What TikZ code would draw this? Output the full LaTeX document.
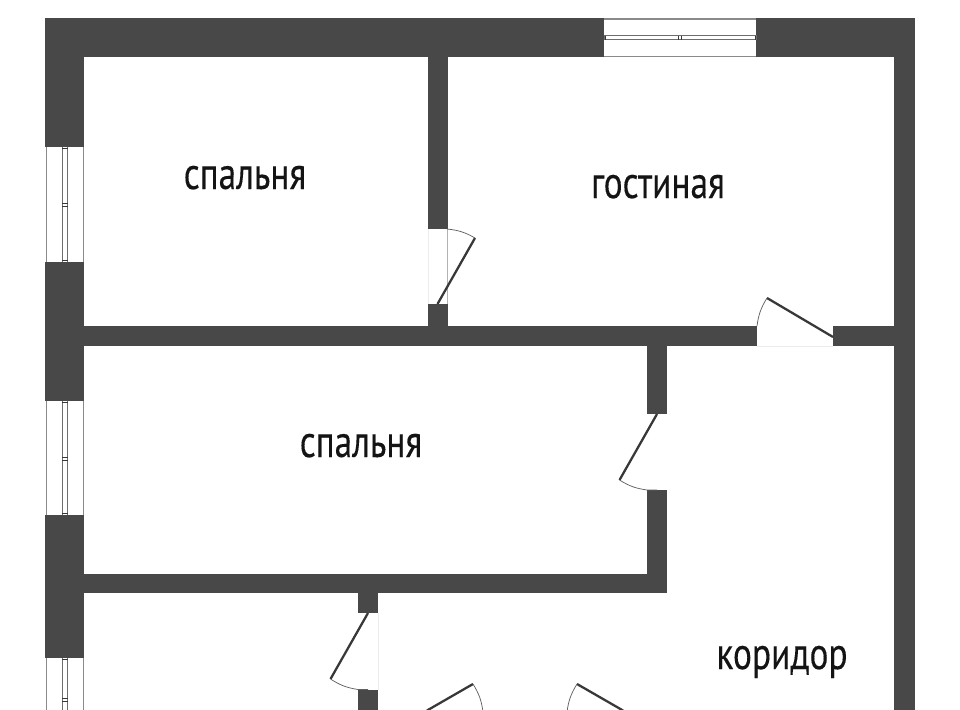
\documentclass[tikz,border=0pt]{standalone}
\usepackage{fontspec}
\setmainfont[FakeBold=0.25]{PT Sans}
\definecolor{wallc}{HTML}{484848}
\definecolor{doorc}{HTML}{383838}
\definecolor{framec}{HTML}{8A8A8A}
\definecolor{faintc}{HTML}{ECECEC}
\tikzset{
  x=0.75pt,y=-0.75pt,
  wall/.style={fill=wallc,draw=none},
  leaf/.style={draw=doorc,line width=1.7pt},
  swing/.style={draw=doorc!80,line width=0.55pt},
  faint/.style={draw=faintc,line width=0.5pt},
  frame/.style={draw=framec,line width=0.9pt},
  pane/.style={draw=framec!80!black,line width=0.75pt},
  tick/.style={draw=doorc,line width=0.7pt},
  room/.style={font=\fontsize{34}{36}\selectfont,text=black!92,inner sep=0pt,anchor=base,xscale=0.78,transform shape}
}
\newcommand{\hwin}[4]{% x1,x2,y1,y2
  \fill[white] (#1,#3) rectangle (#2,#4);
  \draw[frame] (#1,#3+1) -- (#2,#3+1) (#1,#4-.5) -- (#2,#4-.5);
  \draw[pane] (#1,#3+18) rectangle (#2,#3+22);
  \draw[tick] (#1+1,#3+18) -- (#1+1,#3+22) (#2-1,#3+18) -- (#2-1,#3+22) ({(#1+#2)/2-2},#3+18) -- ({(#1+#2)/2-2},#3+22) ({(#1+#2)/2+1},#3+18) -- ({(#1+#2)/2+1},#3+22);
}
\newcommand{\vwin}[2]{% y1,y2
  \fill[white] (45,#1) rectangle (84,#2);
  \draw[frame] (46.3,#1) -- (46.3,#2) (83.5,#1) -- (83.5,#2);
  \draw[pane] (62,#1) -- (62,#2) (67.7,#1) -- (67.7,#2);
  \draw[tick] (62,#1+1.5) -- (67.7,#1+1.5) (62,#2-1.5) -- (67.7,#2-1.5) (62,{(#1+#2)/2-1}) -- (67.7,{(#1+#2)/2-1}) (62,{(#1+#2)/2+2}) -- (67.7,{(#1+#2)/2+2});
}
\begin{document}
\begin{tikzpicture}
\useasboundingbox (0,0) rectangle (960,710);
\clip (0,0) rectangle (960,710);
\fill[white] (0,0) rectangle (960,710);
% outer walls
\fill[wall] (45,18) rectangle (915,57);
\fill[wall] (45,18) rectangle (84,710);
\fill[wall] (894,18) rectangle (915,710);
% inner walls
\fill[wall] (428,57) rectangle (447.5,229);
\fill[wall] (428,304) rectangle (447.5,326);
\fill[wall] (84,326) rectangle (757,346);
\fill[wall] (833,326) rectangle (894,346);
\fill[wall] (647,346) rectangle (667,414);
\fill[wall] (647,490) rectangle (667,593);
\fill[wall] (84,574) rectangle (667,593);
\fill[wall] (358,593) rectangle (378,613);
\fill[wall] (358,690) rectangle (378,710);
% windows
\hwin{604}{756}{18}{57}
\vwin{147}{262}
\vwin{401}{515}
\vwin{658}{740}
% faint door openings
\draw[faint] (428,229) -- (428,304);
\draw[draw=black!30,line width=0.4pt] (447.5,229) -- (447.5,304);
\draw[faint] (757,346) -- (833,346);
\draw[faint] (378,613) -- (378,690);
% doors
\draw[leaf] (437.5,304) -- (475,238);
\draw[swing] (475,238) to[bend right=12] (447,229);
\draw[leaf] (833,337) -- (767,298);
\draw[swing] (767,298) to[bend right=12] (757,326);
\draw[leaf] (657,414) -- (619.5,480);
\draw[swing] (619.5,480) to[bend right=12] (647,490) -- (657,490);
\draw[leaf] (368,613) -- (330.5,679);
\draw[swing] (330.5,679) to[bend right=12] (358,689.5) -- (368,689.5);
\draw[leaf] (473,684) -- (427,710.5);
\draw[swing] (473,684) to[bend left=12] (483,712);
\draw[leaf] (577,684) -- (623,710.5);
\draw[swing] (577,684) to[bend right=12] (567,712);
% labels
\node[room] (bedA) at (245,189) {спальня};
\node[room] (living) at (658,198) {гостиная};
\node[room] (bedB) at (361,457) {спальня};
\node[room] (hall) at (782,669) {коридор};
\end{tikzpicture}
\end{document}
